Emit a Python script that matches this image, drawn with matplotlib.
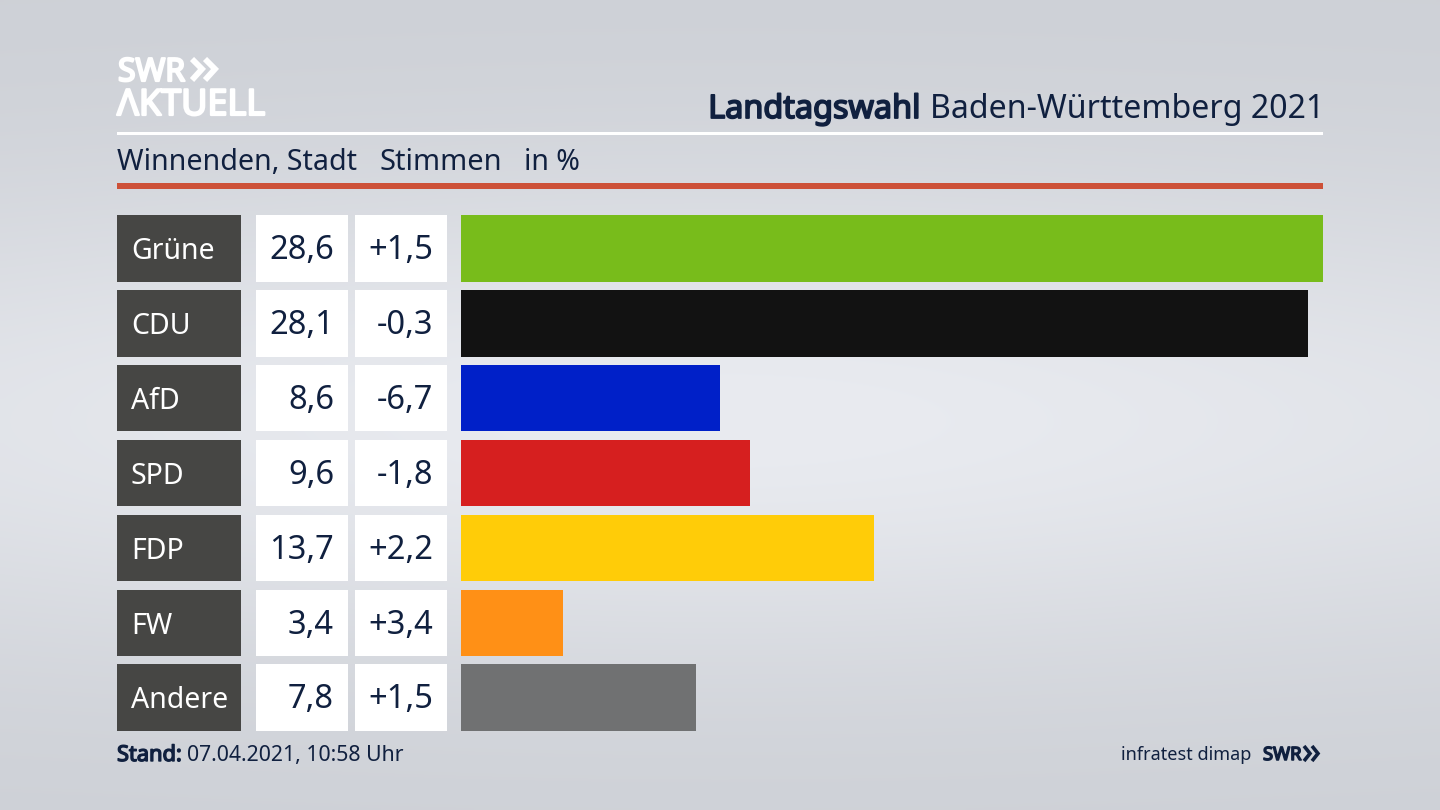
"""
Landtagswahl chart: votes per party as horizontal bars with a small table on the left
"""

import numpy as np
import matplotlib
matplotlib.use('Agg')  # Use non-interactive backend
import matplotlib.pyplot as plt
from matplotlib.patches import Rectangle
import matplotlib.patheffects as pe

plt.rcParams['font.family'] = ['Noto Sans', 'DejaVu Sans']

parties = ['Grüne', 'CDU', 'AfD', 'SPD', 'FDP', 'FW', 'Andere']
votes = [28.6, 28.1, 8.6, 9.6, 13.7, 3.4, 7.8]
changes = ['+1,5', '-0,3', '-6,7', '-1,8', '+2,2', '+3,4', '+1,5']
bar_colors = ['#78bc1b', '#121212', '#0020c8', '#d61f1f', '#ffcc08', '#ff9016', '#707172']

NAVY = '#10203f'
W, H = 1440, 810


def heavy(color, width):
    # the installed faces have no real bold here, so thicken the outline
    return [pe.withStroke(linewidth=width, foreground=color)]


fig = plt.figure(figsize=(14.4, 8.1), dpi=100)

# pixel coordinate layer, y runs downwards like in the screenshot
bg = fig.add_axes([0, 0, 1, 1])
bg.set_xlim(0, W)
bg.set_ylim(H, 0)
bg.axis('off')

# background: grey at top and bottom, lighter band in the middle
yy, xx = np.mgrid[0:1:200j, 0:1:200j]
shade = np.exp(-((yy - 0.52) / 0.30) ** 2) * (0.55 + 0.45 * np.exp(-((xx - 0.5) / 0.55) ** 2))
light = np.array([233, 235, 240]) / 255
dark = np.array([205, 208, 214]) / 255
img = dark + (light - dark) * shade[..., None]
bg.imshow(img, extent=[0, W, H, 0], aspect='auto', zorder=0, interpolation='bilinear')

# logo
bg.text(118, 81, 'SWR', color='white', fontsize=23, va='baseline', ha='left',
        path_effects=heavy('white', 1.6))
bg.text(117, 115, 'ΛKTUELL', color='white', fontsize=25.9, va='baseline', ha='left',
        path_effects=heavy('white', 1.6))
for x0 in (192, 205):
    bg.plot([x0, x0 + 10, x0], [59, 69, 80], color='white', lw=4.2, solid_joinstyle='miter', solid_capstyle='butt')

# header
bg.text(920.5, 118, 'Landtagswahl', color=NAVY, fontsize=23.3, ha='right', va='baseline',
        path_effects=heavy(NAVY, 1.3))
bg.text(930, 118, 'Baden-Württemberg 2021', color=NAVY, fontsize=23.15, ha='left', va='baseline')
bg.add_patch(Rectangle((117, 132), 1206, 3, color='white', lw=0))
bg.text(117, 170, 'Winnenden, Stadt', color=NAVY, fontsize=20.6, va='baseline')
bg.text(379.5, 170, 'Stimmen', color=NAVY, fontsize=20.9, va='baseline')
bg.text(524, 170, 'in %', color=NAVY, fontsize=20.5, va='baseline')
bg.add_patch(Rectangle((117, 183), 1206, 6, color='#cd5138', lw=0))

# table rows
row_tops = [215, 289.9, 364.8, 439.7, 514.6, 589.5, 664.4]
row_h = 66.6
for top, party, vote, change in zip(row_tops, parties, votes, changes):
    mid = top + row_h / 2 + 10.8
    bg.add_patch(Rectangle((117, top), 124.3, row_h, color='#464644', lw=0))
    bg.add_patch(Rectangle((256, top), 92, row_h, color='white', lw=0))
    bg.add_patch(Rectangle((355, top), 92, row_h, color='white', lw=0))
    bg.text(131, mid, party, color='white', fontsize=20.5, va='baseline', ha='left')
    bg.text(334, mid, f'{vote:.1f}'.replace('.', ','), color=NAVY, fontsize=23.5, va='baseline', ha='right')
    bg.text(433, mid, change, color=NAVY, fontsize=23.5, va='baseline', ha='right')

# bars get their own axes, scaled so the biggest value fills the width
pitch = 74.9
ax = fig.add_axes([461 / W, 1 - (664.4 + row_h) / H, (1323 - 461) / W, (664.4 + row_h - 215) / H])
ax.patch.set_alpha(0)
ax.axis('off')
ax.barh(range(len(parties)), votes, height=row_h / pitch, color=bar_colors)
ax.set_xlim(0, max(votes))
ax.set_ylim(len(parties) - 1 + row_h / pitch / 2, -row_h / pitch / 2)

# footer
bg.text(117, 761, 'Stand:', color=NAVY, fontsize=15.7, va='baseline', path_effects=heavy(NAVY, 1.0))
bg.text(187, 761, '07.04.2021, 10:58 Uhr', color=NAVY, fontsize=15.3, va='baseline')
bg.text(1251, 760, 'infratest dimap', color=NAVY, fontsize=13, ha='right', va='baseline')
bg.text(1263, 760, 'SWR', color=NAVY, fontsize=13.2, ha='left', va='baseline', path_effects=heavy(NAVY, 1.1))
for x0 in (1304, 1312):
    bg.plot([x0, x0 + 6, x0], [746, 753.5, 761], color=NAVY, lw=2.6, solid_joinstyle='miter', solid_capstyle='butt')

bg.set_xlim(0, W)
bg.set_ylim(H, 0)

fig.savefig('out.png', dpi=100)
